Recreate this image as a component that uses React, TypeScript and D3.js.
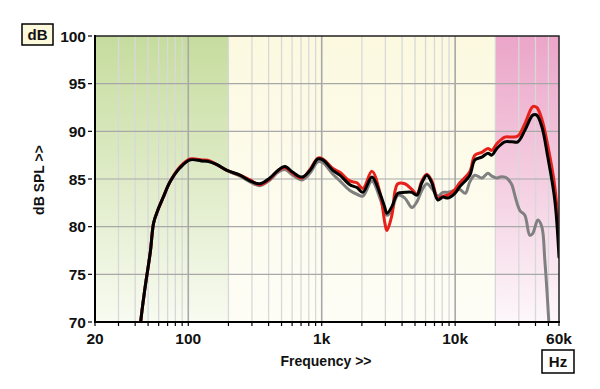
import React from "react";
import * as d3 from "d3";

const freqs = [42, 44, 47, 52, 55, 59, 65, 73, 87, 103, 127, 145, 164, 195, 244, 290, 344, 409, 470, 530, 608, 711, 816, 936, 1020, 1213, 1368, 1626, 1836, 2034, 2377, 2729, 2972, 3077, 3357, 3550, 3722, 4198, 4743, 5166, 5628, 6138, 6686, 7414, 8091, 8810, 9950, 10840, 12880, 14040, 15860, 17580, 18840, 20520, 23560, 26600, 29500, 33280, 38200, 40900, 44600, 49460, 55800, 60000];

const blackDb = [66.5, 70, 73.2, 77.4, 80.4, 81.7, 83.1, 84.7, 86.2, 87.0, 86.9, 86.8, 86.5, 85.9, 85.4, 84.8, 84.5, 85.1, 85.9, 86.3, 85.7, 85.2, 85.9, 87.1, 87.0, 85.9, 85.4, 84.4, 84.1, 83.6, 85.2, 83.5, 82.0, 81.4, 82.1, 83.0, 83.5, 83.6, 83.6, 83.3, 84.6, 85.4, 84.6, 82.8, 83.1, 83.0, 83.5, 84.2, 85.4, 87.0, 87.3, 87.7, 87.5, 88.2, 88.9, 88.9, 88.9, 90.1, 91.7, 91.7, 90.5, 87.3, 82.8, 76.8];

const redDb = [66.5, 70, 73.2, 77.4, 80.4, 81.7, 83.1, 84.7, 86.3, 87.1, 87.0, 86.9, 86.5, 85.9, 85.4, 84.9, 84.4, 85.0, 85.9, 86.2, 85.6, 85.1, 86.0, 87.2, 87.1, 86.1, 85.7, 84.8, 84.6, 84.0, 85.8, 83.6, 80.4, 79.6, 81.2, 83.8, 84.5, 84.5, 83.9, 83.4, 84.8, 85.5, 84.8, 83.0, 83.2, 83.3, 83.9, 84.6, 85.8, 87.5, 87.8, 88.2, 88.0, 88.7, 89.4, 89.4, 89.5, 90.8, 92.6, 92.5, 91.3, 88.5, 84.2, 78.9];

const grayFreqs = [42, 44, 47, 52, 55, 59, 65, 73, 87, 103, 127, 145, 164, 195, 244, 290, 344, 409, 470, 530, 608, 711, 816, 936, 1020, 1213, 1368, 1626, 1836, 2034, 2377, 2729, 2972, 3077, 3357, 3550, 3722, 4198, 4743, 5166, 5628, 6138, 6686, 7414, 8091, 8810, 9950, 10840, 11900, 12880, 14040, 15860, 17580, 18840, 20520, 21620, 23560, 24380, 26600, 27040, 30550, 33280, 36260, 38200, 41620, 44600, 46980, 50340, 52000];

const grayDb = [66.5, 70, 73.2, 77.4, 80.4, 81.7, 83.1, 84.7, 86.2, 87.0, 86.9, 86.8, 86.5, 85.9, 85.3, 84.7, 84.3, 84.9, 85.7, 86.0, 85.4, 84.9, 85.6, 86.8, 86.7, 85.5, 84.8, 83.8, 83.4, 83.2, 84.8, 83.0, 81.5, 81.2, 81.7, 82.8, 83.3, 83.0, 82.0, 82.6, 83.8, 84.5, 84.0, 83.2, 83.6, 83.6, 83.8, 83.9, 83.5, 84.7, 85.4, 85.1, 85.6, 85.3, 85.1, 85.2, 85.2, 85.1, 84.4, 84.1, 81.7, 81.2, 79.1, 79.3, 80.7, 80.0, 76.5, 70, 66];

const yTicks = [70, 75, 80, 85, 90, 95, 100];
const xTickLabels: [number, string][] = [[20, "20"], [100, "100"], [1000, "1k"], [10000, "10k"], [60000, "60k"]];
const bands: [number, number, string][] = [[20, 200, "green"], [200, 20000, "yellow"], [20000, 60000, "pink"]];

function gridFreqs(): number[] {
  const out: number[] = [];
  for (let dec = 10; dec <= 10000; dec *= 10) {
    for (let m = 1; m <= 9; m++) {
      const f = m * dec;
      if (f > 20 && f < 60000) out.push(f);
    }
  }
  return out;
}

export default function App() {
  const W = 600, H = 389;
  const left = 95, right = 559, top = 36, bottom = 322;
  const x = d3.scaleLog().domain([20, 60000]).range([left, right]);
  const y = d3.scaleLinear().domain([70, 100]).range([bottom, top]);
  const line = d3.line<[number, number]>().x(d => x(d[0])).y(d => y(d[1])).curve(d3.curveCatmullRom.alpha(0.5));
  const blackPts = freqs.map((f, i) => [f, blackDb[i]] as [number, number]);
  const redPts = freqs.map((f, i) => [f, redDb[i]] as [number, number]);
  const grayPts = grayFreqs.map((f, i) => [f, grayDb[i]] as [number, number]);
  const gf = gridFreqs();
  const font = "'Liberation Sans', Arial, sans-serif";
  return (
    <svg width={W} height={H} style={{ display: "block", position: "absolute", left: 0, top: 0 }}>
      <defs>
        <linearGradient id="green" x1="0" y1="0" x2="0" y2="1">
          <stop offset="0" stopColor="#c6dc9e" />
          <stop offset="1" stopColor="#f8fbf1" />
        </linearGradient>
        <linearGradient id="yellow" x1="0" y1="0" x2="0" y2="1">
          <stop offset="0" stopColor="#fcf9e0" />
          <stop offset="1" stopColor="#fefdf6" />
        </linearGradient>
        <linearGradient id="pink" x1="0" y1="0" x2="0" y2="1">
          <stop offset="0" stopColor="#eba5c8" />
          <stop offset="1" stopColor="#fdf7fa" />
        </linearGradient>
        <clipPath id="plot">
          <rect x={left} y={top} width={right - left} height={bottom - top} />
        </clipPath>
      </defs>
      <rect x={0} y={0} width={W} height={H} fill="#ffffff" />
      {bands.map(([a, b, id]) => (
        <rect key={id} x={x(a)} y={top} width={x(b) - x(a)} height={bottom - top} fill={`url(#${id})`} />
      ))}
      {gf.map(f => {
        const major = f === 100 || f === 1000 || f === 10000;
        return (
          <line key={f} x1={x(f)} x2={x(f)} y1={top} y2={bottom}
            stroke={major ? "#a8a8a8" : "#d8d8d8"} strokeWidth={major ? 1.6 : 1.3} />
        );
      })}
      {yTicks.slice(1, -1).map(v => (
        <line key={v} x1={left} x2={right} y1={y(v)} y2={y(v)} stroke="#a8a8a8" strokeWidth={1.2} />
      ))}
      <g clipPath="url(#plot)" fill="none" strokeLinejoin="round" strokeLinecap="round">
        <path d={line(grayPts) || ""} stroke="#808080" strokeWidth={3} />
        <path d={line(redPts) || ""} stroke="#e8201a" strokeWidth={3} />
        <path d={line(blackPts) || ""} stroke="#000000" strokeWidth={3} />
      </g>
      <rect x={left} y={top} width={right - left} height={bottom - top} fill="none" stroke="#222" strokeWidth={1.5} />
      <line x1={left} x2={left} y1={top - 1} y2={bottom + 1} stroke="#000" strokeWidth={2} />
      <line x1={left - 1} x2={right + 1} y1={bottom} y2={bottom} stroke="#000" strokeWidth={2} />
      {[20, ...gf, 60000].map(f => (
        <line key={"t" + f} x1={x(f)} x2={x(f)} y1={bottom + 1} y2={bottom + 4} stroke="#000" strokeWidth={1.2} />
      ))}
      {yTicks.map(v => (
        <g key={"y" + v}>
          <line x1={left - 7} x2={left - 3} y1={y(v)} y2={y(v)} stroke="#000" strokeWidth={1.2} />
          <text x={left - 9} y={y(v)} dy="0.36em" textAnchor="end" fontFamily={font} fontWeight="bold" fontSize={15.5} fill="#111">{v}</text>
        </g>
      ))}
      {xTickLabels.map(([f, t]) => (
        <text key={"x" + f} x={x(f)} y={bottom + 22} textAnchor="middle" fontFamily={font} fontWeight="bold" fontSize={15.5} fill="#111">{t}</text>
      ))}
      <text x={326} y={366} textAnchor="middle" fontFamily={font} fontWeight="bold" fontSize={14} fill="#111">Frequency &gt;&gt;</text>
      <text transform="translate(44,180) rotate(-90)" textAnchor="middle" fontFamily={font} fontWeight="bold" fontSize={14} fill="#111">dB SPL &gt;&gt;</text>
      <rect x={22} y={24} width={31} height={21} fill="#fcf8dc" stroke="#000" strokeWidth={1.5} />
      <text x={37.5} y={34.5} dy="0.36em" textAnchor="middle" fontFamily={font} fontWeight="bold" fontSize={15} fill="#111">dB</text>
      <rect x={542} y={350} width={32} height={23} fill="#ffffff" stroke="#000" strokeWidth={1.5} />
      <text x={558} y={361.5} dy="0.36em" textAnchor="middle" fontFamily={font} fontWeight="bold" fontSize={15} fill="#111">Hz</text>
    </svg>
  );
}
